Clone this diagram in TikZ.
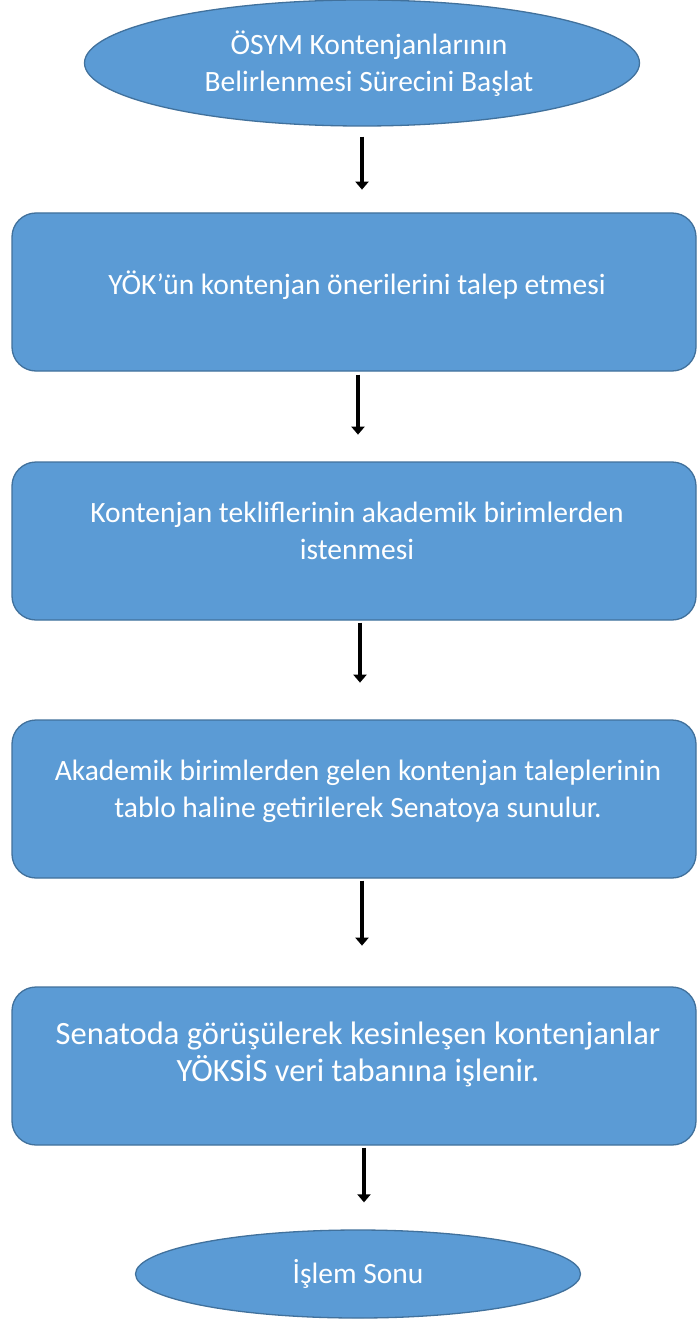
\documentclass[tikz,border=0pt]{standalone}
\usepackage{fontspec}
\setmainfont{Carlito}
\usetikzlibrary{shapes.geometric,arrows.meta,calc}
\definecolor{fillblue}{HTML}{5B9BD5}
\definecolor{edgeblue}{HTML}{41719C}
\tikzset{
  term/.style={ellipse, draw=edgeblue, fill=fillblue, line width=1.3pt, text=white, align=center, inner sep=0pt},
  stepbox/.style={rectangle, rounded corners=24pt, draw=edgeblue, fill=fillblue, line width=1.3pt, text=white, align=center, minimum width=684pt, minimum height=158pt, inner sep=0pt},
  lbl/.style={text=white, align=center, font=\fontsize{29.5}{37}\selectfont},
  flow/.style={line width=4.4pt, black, -{Triangle[width=13pt,length=8pt]}},
}
\begin{document}
\begin{tikzpicture}[x=1pt,y=-1pt]
\useasboundingbox[fill=white] (0,0) rectangle (697,1321);
\node[term, minimum width=555pt, minimum height=126pt] (e1) at (362,63) {};
\node[lbl] (t0) at (369,64) {ÖSYM Kontenjanlarının\\Belirlenmesi Sürecini Başlat};
\node[stepbox] (b1) at (354,292) {};
\node[lbl] (t1) at (357,285) {YÖK’ün kontenjan önerilerini talep etmesi};
\node[stepbox] (b2) at (354,541) {};
\node[lbl] (t2) at (357,531) {Kontenjan tekliflerinin akademik birimlerden\\istenmesi};
\node[stepbox] (b3) at (354,799) {};
\node[lbl] (t3) at (358,791) {Akademik birimlerden gelen kontenjan taleplerinin\\tablo haline getirilerek Senatoya sunulur.};
\node[stepbox] (b4) at (354,1066) {};
\node[lbl, font=\fontsize{32.5}{37}\selectfont] (t4) at (358,1054) {Senatoda görüşülerek kesinleşen kontenjanlar\\YÖKSİS veri tabanına işlenir.};
\node[term, minimum width=445pt, minimum height=88pt, font=\fontsize{29.5}{37}\selectfont] (e2) at (358,1274) {İşlem Sonu};
\draw[flow, shorten <=10pt, shorten >=23pt] ($(e1.south)$) -- ($(e1.south)+(0,86)$);
\draw[flow, shorten <=3pt, shorten >=28pt] ($(b1.south)+(4,0)$) -- ($(b1.south)+(4,91)$);
\draw[flow, shorten <=2pt, shorten >=38pt] ($(b2.south)+(6,0)$) -- ($(b2.south)+(6,100)$);
\draw[flow, shorten <=2pt, shorten >=43pt] ($(b3.south)+(8,0)$) -- ($(b3.south)+(8,110)$);
\draw[flow, shorten <=2pt, shorten >=27pt] ($(b4.south)+(10,0)$) -- (e2.north -| {$(b4.south)+(10,0)$});
\end{tikzpicture}
\end{document}
